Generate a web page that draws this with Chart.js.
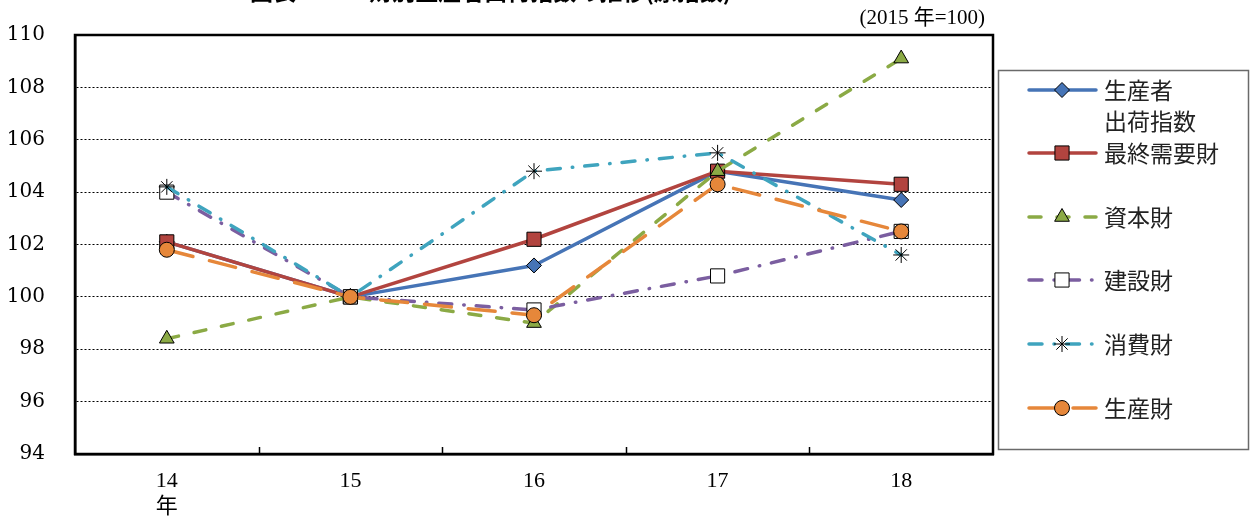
<!DOCTYPE html>
<html lang="ja">
<head>
<meta charset="utf-8">
<script src="https://cdn.jsdelivr.net/npm/chart.js@4/dist/chart.umd.min.js"></script>
<style>
  html, body { margin: 0; padding: 0; background: #fff; }
  #wrap { width: 1250px; height: 517px; position: relative; }
</style>
</head>
<body>
<div id="wrap"><canvas id="c" width="1250" height="517"></canvas></div>
<script>
// 財別生産者出荷指数（2015年=100）
const years = [['14', '年'], '15', '16', '17', '18'];
const yTicks = [94, 96, 98, 100, 102, 104, 106, 108, 110];

const shukka   = [102.1, 100.0, 101.2, 104.8, 103.7];  // 生産者出荷指数
const saishu   = [102.1, 100.0, 102.2, 104.8, 104.3];  // 最終需要財
const shihon   = [98.4, 100.0, 99.0, 104.8, 109.1];    // 資本財
const kensetsu = [104.0, 100.0, 99.5, 100.8, 102.5];   // 建設財
const shohi    = [104.2, 100.0, 104.8, 105.5, 101.6];  // 消費財
const seisan   = [101.8, 100.0, 99.3, 104.3, 102.5];   // 生産財

const titleText = '図表2－3　財別生産者出荷指数の推移(原指数)';
const unitText = '(2015 年=100)';

const series = [
  { label: ['生産者', '出荷指数'], data: shukka, color: '#4674B6', fill: '#4674B6', style: 'rectRot', radius: 7.5, dash: [], cap: 'round' },
  { label: ['最終需要財'], data: saishu, color: '#B2443F', fill: '#B2443F', style: 'rect', radius: 10, dash: [], cap: 'round' },
  { label: ['資本財'], data: shihon, color: '#8BAA45', fill: '#8BAA45', style: 'triangle', radius: 8.5, dash: [12, 16], cap: 'round' },
  { label: ['建設財'], data: kensetsu, color: '#7B5EA0', fill: '#ffffff', style: 'rect', radius: 10, dash: [13, 12, 0.5, 12], cap: 'round' },
  { label: ['消費財'], data: shohi, color: '#3FA4BE', fill: '#ffffff', style: 'star', radius: 8, dash: [13, 12, 0.5, 12], cap: 'round' },
  { label: ['生産財'], data: seisan, color: '#E6873A', fill: '#E6873A', style: 'circle', radius: 7.5, dash: [27, 17], cap: 'round' }
];

const legendRows = [90, 153, 217, 280, 344, 408];

const datasets = series.map((s, i) => ({
  label: s.label.join(''),
  data: s.data,
  borderColor: s.color,
  borderWidth: 3.5,
  borderDash: s.dash,
  borderCapStyle: s.cap,
  borderJoinStyle: 'round',
  pointStyle: s.style,
  pointRadius: s.radius,
  pointHoverRadius: s.radius,
  pointBackgroundColor: s.fill,
  pointBorderColor: '#000',
  pointBorderWidth: 1,
  tension: 0,
  fill: false,
  order: series.length - 1 - i
}));

// タイトル、単位、x軸の内向き目盛、凡例
const decorations = {
  id: 'decorations',
  afterDraw(chart) {
    const ctx = chart.ctx;
    const area = chart.chartArea;
    const xs = chart.scales.x;
    ctx.save();

    ctx.fillStyle = '#000';
    ctx.font = 'bold 23px "Noto Sans CJK JP"';
    ctx.textAlign = 'left';
    ctx.textBaseline = 'alphabetic';
    ctx.fillText(titleText, 250, 0);

    ctx.font = '21px "Liberation Serif", "Noto Sans CJK JP"';
    ctx.textAlign = 'right';
    ctx.textBaseline = 'middle';
    ctx.fillText(unitText, 985, 18);

    ctx.strokeStyle = '#000';
    ctx.lineWidth = 1.5;
    for (let i = 0; i < years.length - 1; i++) {
      const x = Math.round((xs.getPixelForValue(i) + xs.getPixelForValue(i + 1)) / 2) + 0.5;
      ctx.beginPath();
      ctx.moveTo(x, area.bottom);
      ctx.lineTo(x, area.bottom - 7);
      ctx.stroke();
    }

    // 凡例枠
    ctx.strokeStyle = '#6a6a6a';
    ctx.lineWidth = 1.5;
    ctx.strokeRect(998.5, 70.5, 250, 379);

    series.forEach((s, i) => {
      const y = legendRows[i];
      ctx.save();
      ctx.strokeStyle = s.color;
      ctx.lineWidth = 3.5;
      ctx.lineCap = s.cap;
      ctx.setLineDash(s.dash);
      ctx.beginPath();
      ctx.moveTo(1029, y);
      ctx.lineTo(1096, y);
      ctx.stroke();
      ctx.restore();

      ctx.save();
      ctx.fillStyle = s.fill;
      ctx.strokeStyle = '#000';
      ctx.lineWidth = 1;
      Chart.helpers.drawPoint(ctx, { pointStyle: s.style, radius: s.radius, borderWidth: 1, rotation: 0 }, 1062, y);
      ctx.restore();

      ctx.fillStyle = '#222';
      ctx.font = '23px "Noto Sans CJK JP"';
      ctx.textAlign = 'left';
      ctx.textBaseline = 'middle';
      s.label.forEach((t, k) => ctx.fillText(t, 1104, y + k * 31));
    });

    ctx.restore();
  }
};

new Chart(document.getElementById('c'), {
  type: 'line',
  data: { labels: years, datasets },
  options: {
    responsive: false,
    animation: false,
    layout: { padding: { top: 35, right: 257, left: 0, bottom: 0 } },
    plugins: {
      legend: { display: false },
      title: { display: false },
      tooltip: { enabled: false }
    },
    scales: {
      x: {
        type: 'category',
        offset: true,
        grid: { display: true, drawOnChartArea: false, drawTicks: false },
        border: { display: true, color: '#000', width: 2.5 },
        ticks: {
          color: '#000',
          padding: 14,
          maxRotation: 0,
          font: { family: '"Liberation Serif", "Noto Sans CJK JP"', size: 22, lineHeight: 1.2 }
        },
        afterFit(scale) { scale.height = 63; }
      },
      y: {
        min: 94,
        max: 110,
        afterBuildTicks(scale) { scale.ticks = yTicks.map(v => ({ value: v })); },
        grid: {
          color: '#000',
          lineWidth: 1,
          drawTicks: false
        },
        border: { display: true, color: '#000', width: 2.5, dash: [2, 2] },
        ticks: {
          color: '#000',
          padding: 16,
          font: { family: '"DejaVu Serif"', size: 20 }
        },
        afterFit(scale) { scale.width = 75; },
        // 目盛ラベルを軸から離して右端をそろえる
        afterUpdate(scale) {
          scale._labelItems = null;
        }
      }
    }
  },
  plugins: [decorations, {
    id: 'frame',
    beforeDatasetsDraw(chart) {
      const { ctx, chartArea: a } = chart;
      ctx.save();
      ctx.strokeStyle = '#000';
      ctx.lineWidth = 2.5;
      ctx.strokeRect(a.left, a.top, a.right - a.left, a.bottom - a.top);
      ctx.restore();
    }
  }, {
    id: 'yLabelShift',
    beforeDraw(chart) {
      const ys = chart.scales.y;
      const items = ys.getLabelItems();
      items.forEach(it => {
        if (it.options && typeof it.options.translation !== 'undefined') {
          it.options.translation = [it.options.translation[0] - 14, it.options.translation[1]];
        }
      });
    }
  }]
});
</script>
</body>
</html>
